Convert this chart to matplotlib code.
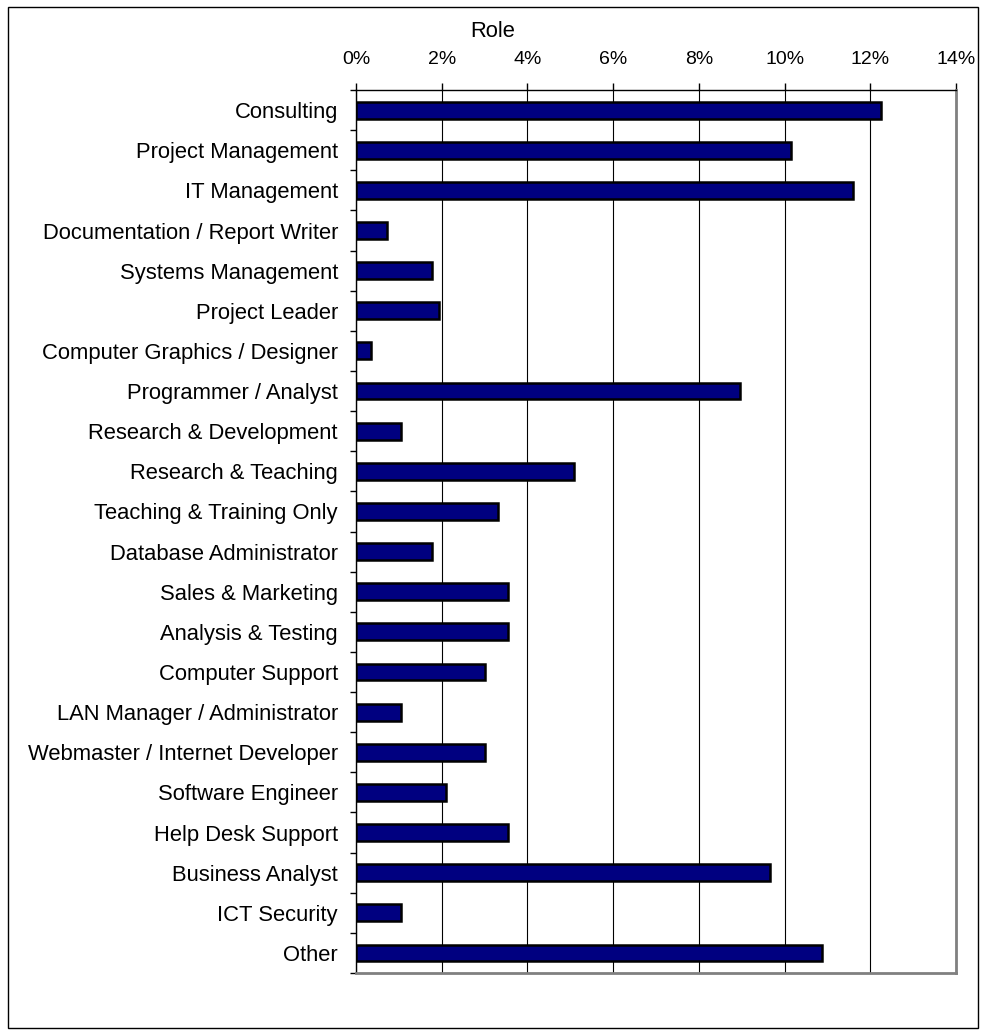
import matplotlib
matplotlib.use("Agg")
import matplotlib.pyplot as plt
from matplotlib.patches import Rectangle

plt.rcParams['font.family'] = ['Liberation Sans', 'DejaVu Sans']

roles = ["Consulting", "Project Management", "IT Management",
         "Documentation / Report Writer", "Systems Management", "Project Leader",
         "Computer Graphics / Designer", "Programmer / Analyst",
         "Research & Development", "Research & Teaching",
         "Teaching & Training Only", "Database Administrator",
         "Sales & Marketing", "Analysis & Testing", "Computer Support",
         "LAN Manager / Administrator", "Webmaster / Internet Developer",
         "Software Engineer", "Help Desk Support", "Business Analyst",
         "ICT Security", "Other"]
share = [12.25, 10.16, 11.59, 0.72, 1.78, 1.94, 0.34, 8.95, 1.05, 5.09, 3.32,
         1.78, 3.55, 3.55, 3.0, 1.05, 3.0, 2.11, 3.55, 9.66, 1.05, 10.87]
xticks = [0, 2, 4, 6, 8, 10, 12, 14]
xlabels = ["0%", "2%", "4%", "6%", "8%", "10%", "12%", "14%"]

fig = plt.figure(figsize=(9.86, 10.36), dpi=100)
ax = fig.add_axes([0.361, 0.0608, 0.6086, 0.8523])

n = len(roles)
ypos = list(range(n))
ax.barh(ypos, share, height=0.42, color="#000080", edgecolor="black",
        linewidth=1.8, zorder=3)

ax.set_xlim(0, 14)
ax.set_ylim(n - 0.5, -0.5)

ax.xaxis.tick_top()
ax.set_xticks(xticks)
ax.set_xticklabels(xlabels, fontsize=14)
ax.tick_params(axis="x", direction="out", length=5, width=1, pad=11, color="black")

ax.set_yticks(ypos)
ax.set_yticklabels(roles, fontsize=15.8)
ax.tick_params(axis="y", which="major", length=0, pad=13)
ax.set_yticks([i + 0.5 for i in range(-1, n)], minor=True)
ax.tick_params(axis="y", which="minor", length=4, width=1, color="black")

ax.grid(axis="x", color="black", linewidth=0.8, zorder=0)

for s in ["top", "left"]:
    ax.spines[s].set_color("black")
    ax.spines[s].set_linewidth(1)
for s in ["right", "bottom"]:
    ax.spines[s].set_color("#808080")
    ax.spines[s].set_linewidth(2)

fig.text(0.5, 0.970, "Role", ha="center", va="center", fontsize=15.8)

fig.patches.append(Rectangle((0.0081, 0.0077), 0.984, 0.9855, transform=fig.transFigure,
                             fill=False, edgecolor="black", linewidth=1))

fig.savefig("out.png", dpi=100)
